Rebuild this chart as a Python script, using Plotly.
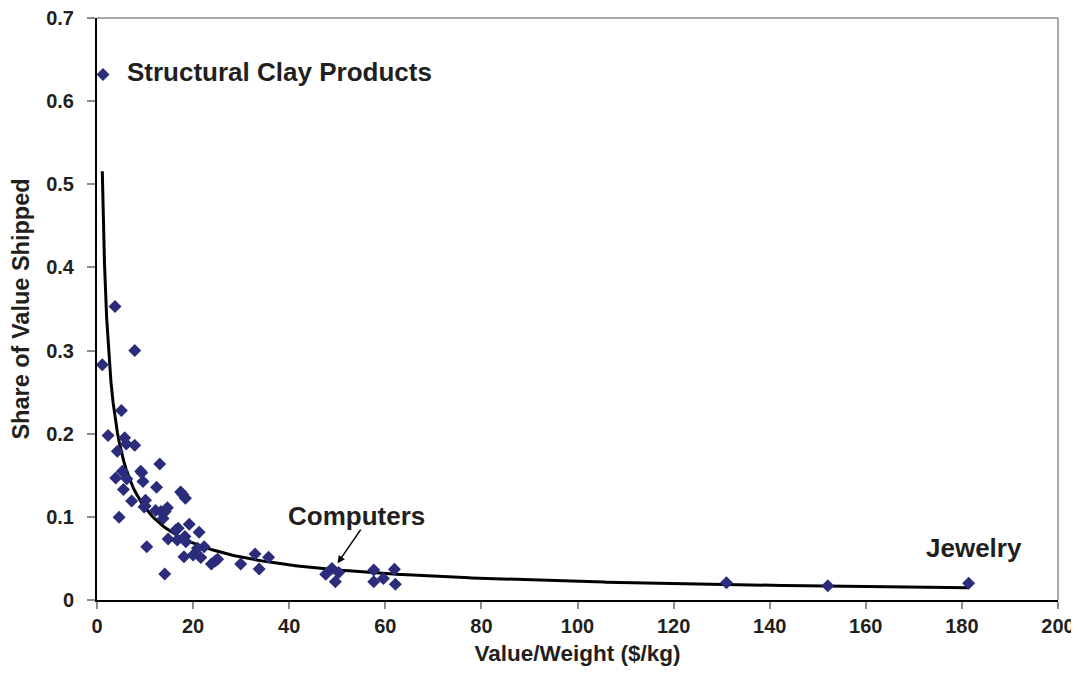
import numpy as np
import plotly.graph_objects as go

# Value/weight ($/kg) and share of value shipped, per industry
value_weight = [1.25, 1.1, 3.75, 7.85, 5.07, 2.3, 5.77, 6.1, 7.85, 4.23,
                13.06, 5.28, 9.1, 9.3, 3.9, 6.2, 9.58, 12.4, 5.5, 17.4,
                17.9, 18.4, 7.2, 10.1, 10.0, 9.8, 12.2, 13.3, 14.65, 14.2,
                13.75, 4.6, 19.2, 16.9, 16.4, 21.25, 18.3, 14.8, 16.7, 18.5,
                22.3, 20.9, 10.35, 18.1, 20.0, 21.6, 23.8, 24.6, 25.1, 29.9,
                32.9, 35.7, 33.75, 14.1, 47.6, 48.9, 50.3, 49.6, 57.6, 59.6,
                57.6, 61.9, 62.1, 131.0, 152.1, 181.4]
share_shipped = [0.632, 0.283, 0.353, 0.300, 0.228, 0.198, 0.195, 0.1876, 0.186, 0.179,
                 0.1635, 0.155, 0.155, 0.153, 0.1466, 0.1458, 0.1426, 0.1357, 0.133, 0.130,
                 0.1265, 0.1225, 0.119, 0.120, 0.113, 0.112, 0.1076, 0.1064, 0.111, 0.1064,
                 0.098, 0.0996, 0.091, 0.0863, 0.0843, 0.0815, 0.0763, 0.0735, 0.0723, 0.070,
                 0.064, 0.0622, 0.064, 0.052, 0.054, 0.051, 0.0434, 0.047, 0.049, 0.0434,
                 0.0554, 0.0514, 0.0373, 0.0313, 0.031, 0.038, 0.033, 0.022, 0.036, 0.026,
                 0.022, 0.037, 0.019, 0.0208, 0.0172, 0.020]

x_ticks = [0, 20, 40, 60, 80, 100, 120, 140, 160, 180, 200]
y_ticks = [0, 0.1, 0.2, 0.3, 0.4, 0.5, 0.6, 0.7]
y_tick_labels = ["0", "0.1", "0.2", "0.3", "0.4", "0.5", "0.6", "0.7"]

# Power trendline fitted to the data (as a spreadsheet trendline would be)
lx = np.log(np.array(value_weight))
ly = np.log(np.array(share_shipped))
b, lna = np.polyfit(lx, ly, 1)
a = np.exp(lna)
trend_x = np.linspace(min(value_weight), max(value_weight), 400)
trend_y = a * trend_x ** b

FONT = "Liberation Sans, Arial, sans-serif"
TXT = "#231f20"

fig = go.Figure()
fig.add_trace(go.Scatter(x=trend_x, y=trend_y, mode="lines",
                         line=dict(color="black", width=3), hoverinfo="skip"))
fig.add_trace(go.Scatter(x=value_weight, y=share_shipped, mode="markers",
                         marker=dict(symbol="diamond", size=10, color="#2c2c7c")))

fig.add_annotation(x=5.83, y=0.635, text="Structural Clay Products", showarrow=False,
                   xanchor="left", yanchor="middle",
                   font=dict(family=FONT, size=26, color=TXT, weight="bold"))
fig.add_annotation(x=182.5, y=0.0627, text="Jewelry", showarrow=False,
                   xanchor="center", yanchor="middle",
                   font=dict(family=FONT, size=26, color=TXT, weight="bold"))
fig.add_annotation(x=50.06, y=0.0442, ax=55.1, ay=0.0864, axref="x", ayref="y",
                   text="", showarrow=True, arrowhead=2, arrowsize=1, arrowwidth=1.5,
                   arrowcolor="black")
fig.add_annotation(x=53.96, y=0.101, text="Computers", showarrow=False,
                   xanchor="center", yanchor="middle",
                   font=dict(family=FONT, size=26, color=TXT, weight="bold"))

# grey top and right frame
fig.add_shape(type="line", xref="paper", yref="paper", x0=0, x1=1, y0=1, y1=1,
              line=dict(color="#8c8c8c", width=1.5))
fig.add_shape(type="line", xref="paper", yref="paper", x0=1, x1=1, y0=0, y1=1,
              line=dict(color="#8c8c8c", width=1.5))

# the page adds an 8px body margin, so the figure is sized to fit inside it
fig.update_layout(
    width=1071, height=675,
    margin=dict(l=89, r=21, t=10, b=83),
    paper_bgcolor="white", plot_bgcolor="white",
    showlegend=False,
    xaxis=dict(range=[0, 200], tickvals=x_ticks, showgrid=False, zeroline=False,
               automargin=False, ticklabeloverflow="allow",
               showline=True, linecolor="black", linewidth=2,
               ticks="outside", ticklen=7, tickcolor="#8c8c8c", tickwidth=1.5,
               tickfont=dict(family=FONT, size=20, color=TXT, weight="bold"),
               title=dict(text="Value/Weight ($/kg)", standoff=9,
                          font=dict(family=FONT, size=22.5, color=TXT, weight="bold"))),
    yaxis=dict(range=[0, 0.7], tickvals=y_ticks, ticktext=y_tick_labels,
               showgrid=False, zeroline=False, automargin=False,
               ticklabeloverflow="allow",
               showline=True, linecolor="black", linewidth=2,
               ticks="outside", ticklen=8, tickcolor="#8c8c8c", tickwidth=1.5,
               ticklabelstandoff=9,
               tickfont=dict(family=FONT, size=20, color=TXT, weight="bold"),
               title=dict(text="Share of Value Shipped", standoff=14,
                          font=dict(family=FONT, size=23.5, color=TXT, weight="bold"))),
)

fig.write_html("out.html")
